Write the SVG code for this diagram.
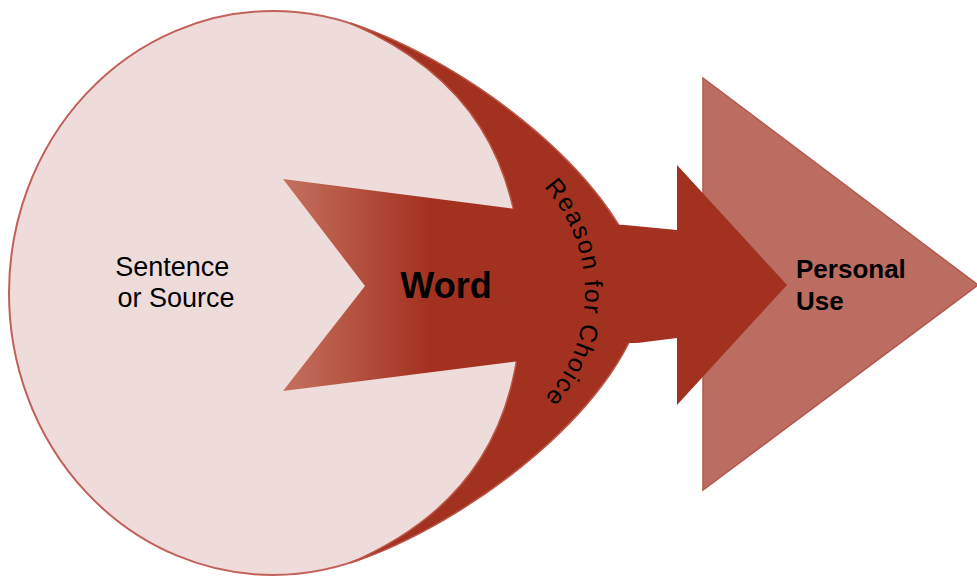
<svg xmlns="http://www.w3.org/2000/svg" width="977" height="576" viewBox="0 0 977 576">
  <defs>
    <style>
      .label { font-family: "Liberation Sans", Arial, sans-serif; fill: #000; }
      .bold { font-weight: bold; }
      .dark { fill: #a33120; }
    </style>
    <linearGradient id="wordFill" gradientUnits="userSpaceOnUse" x1="283" y1="0" x2="600" y2="0">
      <stop offset="0" stop-color="#c4715f"/>
      <stop offset="0.18" stop-color="#b85846"/>
      <stop offset="0.46" stop-color="#a33120"/>
      <stop offset="1" stop-color="#a33120"/>
    </linearGradient>
    <path id="reasonArc" d="M506.5,157 A157,157 0 0 1 506.5,429"/>
  </defs>

  <rect width="977" height="576" fill="#ffffff"/>

  <!-- Personal Use: large triangle on the right -->
  <g id="node-personal">
    <polygon points="703,78 978,285 703,490" fill="#bc6d62" stroke="#b3584d" stroke-width="1.5"/>
  </g>

  <!-- Sentence or Source: large pink ellipse -->
  <g id="node-source">
    <ellipse cx="273" cy="293" rx="264" ry="282" fill="#eedcdb" stroke="#c2605a" stroke-width="2"/>
  </g>

  <!-- Reason for Choice: crescent hugging the ellipse -->
  <g id="node-reason">
    <path class="dark" d="M350,23 C470,62 630,185 645,293 C630,401 470,524 350,563 C468,512 522,426 522,293 C522,160 468,74 350,23 Z" stroke="#bb5646" stroke-width="1.5"/>
  </g>

  <!-- Arrow from the crescent into the triangle -->
  <g id="connectors">
    <polygon class="dark" points="600,224 625,225 677,230 677,165 787,285 677,405 677,338 637,343 600,343"/>
  </g>

  <!-- Word: notched chevron -->
  <g id="node-word">
    <polygon points="283,179 600,220 600,351 283,391 365,286" fill="url(#wordFill)"/>
  </g>

  <!-- Labels -->
  <g id="labels">
    <text class="label" font-size="27" text-anchor="middle">
      <tspan x="176" y="276">Sentence</tspan>
      <tspan x="176" y="307">or Source</tspan>
    </text>
    <text class="label bold" font-size="36" x="446" y="298" text-anchor="middle">Word</text>
    <text class="label" font-size="25" letter-spacing="1.5">
      <textPath href="#reasonArc" startOffset="50%" text-anchor="middle">Reason for Choice</textPath>
    </text>
    <text class="label bold" font-size="26">
      <tspan x="796" y="278">Personal</tspan>
      <tspan x="796" y="310">Use</tspan>
    </text>
  </g>
</svg>
